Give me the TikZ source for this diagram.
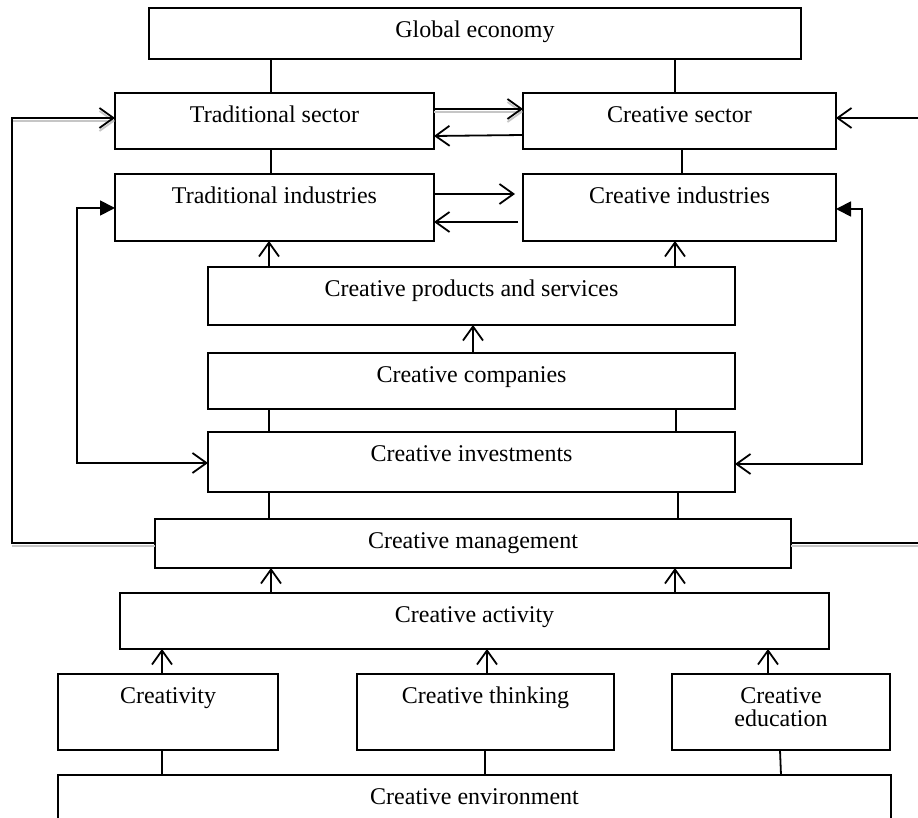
\documentclass[tikz,border=0pt]{standalone}
\usepackage{fontspec}
\setmainfont{Liberation Serif}
\usetikzlibrary{arrows.meta}

\tikzset{
  panel/.style={draw, line width=0.9pt, inner sep=0pt, outer sep=0pt},
  caption/.style={inner sep=0pt, outer sep=0pt, font=\fontsize{12pt}{11.5pt}\selectfont},
  link/.style={line width=0.9pt},
  barb/.style={-{Straight Barb[length=7pt,width=10pt]}},
  flow/.style={link, barb},
  shade/.style={line width=0.9pt, draw=gray!45},
  twoway/.style={link, {Triangle[length=7.5pt,width=7.5pt]}-{Straight Barb[length=7pt,width=10pt]}},
}

% \blockbox{name}{left}{top}{right}{bottom}{caption}, coordinates in px
\newcommand\blockbox[6]{%
  \pgfmathsetmacro\bbw{(#4-#2)/2}%
  \pgfmathsetmacro\bbh{(#5-#3)/2}%
  \node[panel, minimum width=\bbw pt, minimum height=\bbh pt] (#1) at ({(#2+#4)/2},{(#3+#5)/2}) {};%
  \node[caption, anchor=base] (#1-text) at ({(#2+#4)/2},{#3+30}) {#6};%
}

\begin{document}
\begin{tikzpicture}[x=0.5pt,y=-0.5pt]
\useasboundingbox (0,0) rectangle (918,818);
\clip (0,0) rectangle (918,818);

% boxes
\blockbox{ge}{149}{8}{801}{59}{Global economy}
\blockbox{ts}{115}{93}{434}{149}{Traditional sector}
\blockbox{cs}{523}{93}{836}{149}{Creative sector}
\blockbox{ti}{115}{174}{434}{241}{Traditional industries}
\blockbox{ci}{523}{174}{836}{241}{Creative industries}
\blockbox{cp}{208}{267}{735}{325}{Creative products and services}
\blockbox{cc}{208}{353}{735}{409}{Creative companies}
\blockbox{inv}{208}{432}{735}{492}{Creative investments}
\blockbox{mg}{155}{519}{791}{568}{Creative management}
\blockbox{ca}{120}{593}{829}{649}{Creative activity}
\blockbox{cy}{58}{674}{278}{750}{Creativity}
\blockbox{ct}{357}{674}{614}{750}{Creative thinking}
\blockbox{ce}{672}{674}{890}{750}{}
\node[caption, align=center, anchor=north] (ce-lines) at (781,688) {Creative\\education};
\blockbox{env}{58}{775}{891}{860}{Creative environment}

% plain links
\draw[link] (271,0 |- ge.south) -- (271,0 |- ts.north);
\draw[link] (675,0 |- ge.south) -- (675,0 |- cs.north);
\draw[link] (271,0 |- ts.south) -- (271,0 |- ti.north);
\draw[link] (682,0 |- cs.south) -- (682,0 |- ci.north);
\draw[link] (269,0 |- cc.south) -- (269,0 |- inv.north);
\draw[link] (676,0 |- cc.south) -- (676,0 |- inv.north);
\draw[link] (269,0 |- inv.south) -- (269,0 |- mg.north);
\draw[link] (678,0 |- inv.south) -- (678,0 |- mg.north);
\draw[link] (162,0 |- cy.south) -- (162,0 |- env.north);
\draw[link] (485,0 |- ct.south) -- (485,0 |- env.north);
\draw[link] (780,0 |- ce.south) -- (781,0 |- env.north);

% exchange between sectors and industries
\draw[shade, barb] (ts.east |- 0,112) -- (cs.west |- 0,112);
\draw[flow] (ts.east |- 0,109) -- (cs.west |- 0,109);
\draw[flow] (cs.west |- 0,135) -- (ts.east |- 0,136);
\draw[flow, shorten >=4pt] (ti.east |- 0,194) -- (ci.west |- 0,194);
\draw[flow, shorten <=2.5pt] (ci.west |- 0,222) -- (ti.east |- 0,222);

% upward flows
\draw[flow] (269,0 |- cp.north) -- (269,0 |- ti.south);
\draw[flow] (675,0 |- cp.north) -- (675,0 |- ci.south);
\draw[flow] (473,0 |- cc.north) -- (473,0 |- cp.south);
\draw[flow] (271,0 |- ca.north) -- (271,0 |- mg.south);
\draw[flow] (675,0 |- ca.north) -- (675,0 |- mg.south);
\draw[flow] (162,0 |- cy.north) -- (162,0 |- ca.south);
\draw[flow] (487,0 |- ct.north) -- (487,0 |- ca.south);
\draw[flow] (768,0 |- ce.north) -- (768,0 |- ca.south);

% feedback from management to the sectors
\draw[shade] (mg.west |- 0,546) -- (12,546);
\draw[shade, barb] (12,121) -- (ts.west |- 0,121);
\draw[flow] (mg.west |- 0,543) -- (12,543) -- (12,118) -- (ts.west |- 0,118);
\draw[shade] (mg.east |- 0,546) -- (930,546);
\draw[flow] (mg.east |- 0,543) -- (930,543) -- (930,118) -- (cs.east |- 0,118);

% investments and industries
\draw[twoway] (ti.west |- 0,208) -- (77,208) -- (77,463) -- (inv.west |- 0,463);
\draw[twoway] (ci.east |- 0,209) -- (862,209) -- (862,464) -- (inv.east |- 0,464);
\end{tikzpicture}
\end{document}
